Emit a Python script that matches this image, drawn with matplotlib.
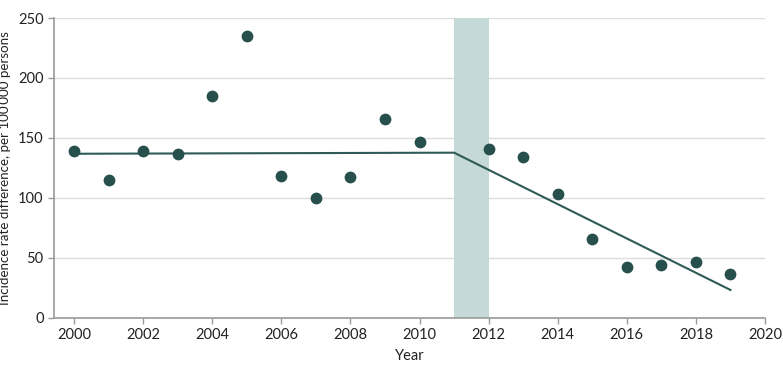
import numpy as np
import matplotlib
matplotlib.use("Agg")
import matplotlib.pyplot as plt

plt.rcParams['font.family'] = ['Lato', 'DejaVu Sans']

# observed yearly values
years = [2000, 2001, 2002, 2003, 2004, 2005, 2006, 2007, 2008, 2009,
         2010, 2012, 2013, 2014, 2015, 2016, 2017, 2018, 2019]
rate_diff = [139, 114.5, 139, 136.5, 184.6, 235.2, 118.4, 99.7, 117.5, 166,
             146.2, 140.9, 134, 102.8, 65.3, 42.4, 43.8, 46.3, 36.3]

# fitted segmented trend
fit_years = [2000, 2011, 2019]
fit_values = [136.7, 137.6, 23]

# shaded transition period
band = (2011, 2012)

dot_color = '#27504d'
line_color = '#2f5b57'
axis_gray = '#9a9a9a'

fig = plt.figure(figsize=(7.83, 3.72), dpi=100)
ax = fig.add_axes([0.069, 0.1465, 0.908, 0.805])

ax.axvspan(band[0], band[1], color='#c5d9d8', lw=0, zorder=1)
ax.plot(fit_years, fit_values, color=line_color, lw=1.5, zorder=3)
ax.scatter(years, rate_diff, s=72, color=dot_color, zorder=4, linewidths=0)

ax.set_xlim(1999.42, 2020)
ax.set_ylim(0, 250)
ax.set_xticks(range(2000, 2021, 2))
ax.set_yticks(range(0, 251, 50))
ax.yaxis.grid(True, color='#dcdcdc', lw=1)
ax.set_axisbelow(True)

for s in ['top', 'right']:
    ax.spines[s].set_visible(False)
for s in ['left', 'bottom']:
    ax.spines[s].set_color(axis_gray)
    ax.spines[s].set_linewidth(1.2)
ax.tick_params(colors=axis_gray, labelcolor='#222222', labelsize=10.5, length=4, width=1)

ax.set_xlabel('Year', fontsize=10.5, color='#222222', labelpad=5)
ax.set_ylabel('Incidence rate difference, per 100\u2009000 persons', fontsize=9.6,
              color='#222222', labelpad=5)

fig.savefig('out.png', dpi=100)
